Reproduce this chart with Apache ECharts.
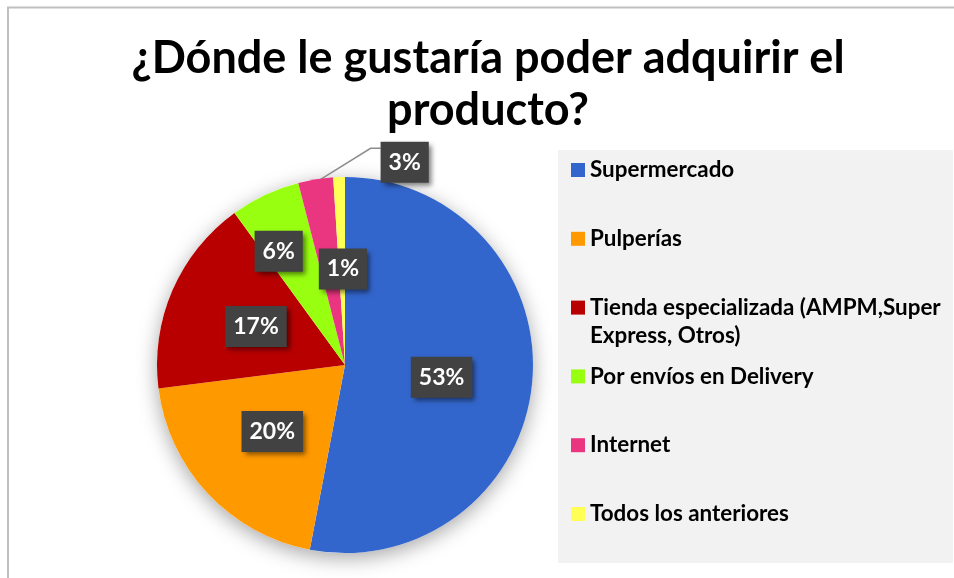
<!DOCTYPE html>
<html>
<head>
<meta charset="utf-8">
<script src="https://cdn.jsdelivr.net/npm/echarts@6/dist/echarts.min.js"></script>
<style>
  html, body { margin: 0; padding: 0; background: #fff; }
  #chart { width: 954px; height: 578px; }
</style>
</head>
<body>
<div id="chart"></div>
<script>
// datos
var titleText = '¿Dónde le gustaría poder adquirir el\nproducto?';
var categories = ['Supermercado', 'Pulperías', 'Tienda especializada (AMPM,Super\nExpress, Otros)', 'Por envíos en Delivery', 'Internet', 'Todos los anteriores'];
var values = [53, 20, 17, 6, 3, 1];
var colors = ['#3366cc', '#ff9900', '#b80000', '#99ff11', '#ea3580', '#ffff55'];

var chart = echarts.init(document.getElementById('chart'));
var font = 'Lato, "Open Sans", sans-serif';

// desplazamiento de las etiquetas respecto a su posición por defecto
var labelShift = { 0: [0, 3], 1: [-2, 0], 2: [0, 0], 3: [-25, -26], 5: [1, 1] };

var total = values.reduce(function (a, b) { return a + b; }, 0);

var pieData = categories.map(function (name, i) {
  var item = { name: name, value: values[i], itemStyle: { color: colors[i] } };
  if (i === 4) {
    item.label = { position: 'outside' };
    item.labelLine = { show: true, length: 8, length2: 10 };
  } else {
    item.label = { position: 'inside', offset: labelShift[i] };
  }
  return item;
});

// una leyenda por elemento para poder controlar la separación
var legends = categories.map(function (name, i) {
  var multi = name.indexOf('\n') >= 0;
  var cy = 170 + i * 68.8;
  return {
    data: [name],
    orient: 'vertical',
    left: 571,
    top: multi ? cy - 42 : cy - 14,
    padding: 0,
    icon: 'rect',
    itemWidth: 14,
    itemHeight: 14,
    selectedMode: false,
    formatter: multi ? function (n) { return '\n' + n; } : '{name}',
    textStyle: { fontFamily: font, fontWeight: 'bold', fontSize: 22.4, lineHeight: 28, color: '#000' }
  };
});

var option = {
  animation: false,
  graphic: [
    { type: 'rect', z: -10, shape: { x: 8, y: 7.5, width: 970, height: 600 }, style: { fill: 'none', stroke: '#c0c0c0', lineWidth: 2 } },
    { type: 'rect', z: -10, shape: { x: 558, y: 150, width: 395, height: 413 }, style: { fill: '#f2f2f2' } },
    {
      type: 'text', x: 488, y: 32, z: 5,
      style: {
        text: titleText, align: 'center', verticalAlign: 'top',
        fontFamily: font, fontWeight: 'bold', fontSize: 45, lineHeight: 52, fill: '#000'
      }
    }
  ],
  legend: legends,
  series: [
    {
      // sombra del círculo
      type: 'pie',
      silent: true,
      z: 1,
      center: [345, 365],
      radius: 188,
      label: { show: false },
      labelLine: { show: false },
      data: [{ name: '_sombra', value: total }],
      itemStyle: { color: '#fff', shadowBlur: 20, shadowColor: 'rgba(0,0,0,0.35)', shadowOffsetY: 5 }
    },
    {
      type: 'pie',
      z: 2,
      center: [345, 365],
      radius: 188,
      startAngle: 90,
      clockwise: true,
      itemStyle: { borderWidth: 0 },
      label: {
        show: true,
        formatter: '{d}%',
        fontFamily: font,
        fontWeight: 'bold',
        fontSize: 23,
        lineHeight: 25,
        color: '#fff',
        backgroundColor: '#424242',
        padding: [8, 8, 8, 8],
        shadowColor: 'rgba(0,0,0,0.5)',
        shadowBlur: 5,
        shadowOffsetX: 3,
        shadowOffsetY: 3
      },
      labelLine: { lineStyle: { color: '#8c8c8c', width: 1.5 } },
      labelLayout: function (p) {
        if (p.dataIndex !== 4 || !p.labelLinePoints) return {};
        var s = p.labelLinePoints[0];
        return {
          x: s[0] + 65,
          y: s[1] - 17,
          align: 'left',
          verticalAlign: 'middle',
          labelLinePoints: [[s[0] + 5, s[1]], [s[0] + 55, s[1] - 31], [s[0] + 65, s[1] - 31]]
        };
      },
      data: pieData
    }
  ]
};

chart.setOption(option);
</script>
</body>
</html>
